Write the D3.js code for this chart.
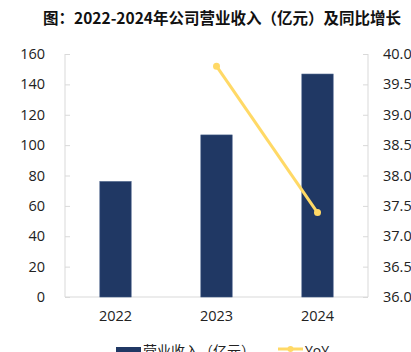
<!DOCTYPE html>
<html lang="zh">
<head>
<meta charset="UTF-8" />
<title>公司营业收入及同比增长</title>
<style>
  body { margin: 0; background: #fff; }
  svg text { font-family: "Open Sans", "Noto Sans CJK SC", sans-serif; }
</style>
</head>
<body>
<div id="chart"></div>
<script src="https://d3js.org/d3.v7.min.js"></script>
<script>
// data
var years = ["2022", "2023", "2024"];
var revenue = [76, 106.7, 146.8];
var yoyYears = ["2023", "2024"];
var yoy = [39.8, 37.39];
var leftTicks = [0, 20, 40, 60, 80, 100, 120, 140, 160];
var rightTicks = [36, 36.5, 37, 37.5, 38, 38.5, 39, 39.5, 40];

var w = 411, h = 352;
// plot edges (note: "top" is reserved on window, so use pTop etc.)
var pLeft = 65, pRight = 368, pTop = 54, pBottom = 297;

var svg = d3.select("#chart").append("svg")
  .attr("width", w)
  .attr("height", h);

// title
svg.append("text")
  .attr("x", 222)
  .attr("y", 24)
  .attr("text-anchor", "middle")
  .style("font-family", "'Noto Sans CJK SC', sans-serif")
  .style("font-weight", "bold")
  .style("font-size", "15.5px")
  .attr("fill", "#111")
  .text("图：2022-2024年公司营业收入（亿元）及同比增长");

var x = d3.scaleBand()
  .domain(years)
  .range([pLeft, pRight])
  .paddingInner(0.69)
  .paddingOuter(0.345);

var yL = d3.scaleLinear().domain([0, 160]).range([pBottom, pTop]);
var yR = d3.scaleLinear().domain([36, 40]).range([pBottom, pTop]);

// axes
var axisColor = "#d9d9d9";

var gl = svg.append("g")
  .attr("transform", "translate(" + pLeft + ",0)")
  .call(d3.axisRight(yL).tickValues(leftTicks).tickSize(5).tickFormat(""));
gl.selectAll("line, path").attr("stroke", axisColor);
gl.select(".domain").attr("d", "M0," + pTop + "V" + pBottom);

// left labels
svg.selectAll(".ltick")
  .data(leftTicks)
  .enter().append("text")
  .attr("x", 45)
  .attr("y", function(d) { return yL(d); })
  .attr("dy", "0.35em")
  .attr("text-anchor", "end")
  .style("font-size", "14.5px")
  .attr("fill", "#222")
  .text(function(d) { return d; });

var gr = svg.append("g")
  .attr("transform", "translate(" + pRight + ",0)")
  .call(d3.axisLeft(yR).tickValues(rightTicks).tickSize(5).tickFormat(""));
gr.selectAll("line, path").attr("stroke", axisColor);
gr.select(".domain").attr("d", "M0," + pTop + "V" + pBottom);

svg.selectAll(".rtick")
  .data(rightTicks)
  .enter().append("text")
  .attr("x", 383)
  .attr("y", function(d) { return yR(d); })
  .attr("dy", "0.35em")
  .style("font-size", "14.5px")
  .attr("fill", "#222")
  .text(function(d) { return d.toFixed(1); });

// bottom axis
var gx = svg.append("g")
  .attr("transform", "translate(0," + pBottom + ")")
  .call(d3.axisBottom(x).tickSize(0).tickPadding(14));
gx.select(".domain").attr("stroke", axisColor).attr("d", "M" + pLeft + ",0H" + pRight);
gx.selectAll("text")
  .style("font-size", "14.5px")
  .style("font-family", "'Open Sans', sans-serif")
  .attr("fill", "#222");

// bars
svg.selectAll(".bar")
  .data(revenue)
  .enter().append("rect")
  .attr("x", function(d, i) { return x(years[i]); })
  .attr("y", function(d) { return yL(d); })
  .attr("width", x.bandwidth())
  .attr("height", function(d) { return pBottom - yL(d); })
  .attr("fill", "#203864")
  .attr("stroke", "#3b5580")
  .attr("stroke-width", 0.6);

// yoy line
var line = d3.line()
  .x(function(d, i) { return x(yoyYears[i]) + x.bandwidth() / 2; })
  .y(function(d) { return yR(d); });

svg.append("path")
  .datum(yoy)
  .attr("d", line)
  .attr("fill", "none")
  .attr("stroke", "#ffd966")
  .attr("stroke-width", 3);

svg.selectAll(".dot")
  .data(yoy)
  .enter().append("circle")
  .attr("cx", function(d, i) { return x(yoyYears[i]) + x.bandwidth() / 2; })
  .attr("cy", function(d) { return yR(d); })
  .attr("r", 3.5)
  .attr("fill", "#ffd966");

// legend
svg.append("rect")
  .attr("x", 116).attr("y", 347)
  .attr("width", 25).attr("height", 10)
  .attr("fill", "#203864");
svg.append("text")
  .attr("x", 143).attr("y", 356)
  .style("font-family", "'Noto Sans CJK SC', sans-serif")
  .style("font-size", "14px")
  .attr("fill", "#222")
  .text("营业收入（亿元）");

svg.append("line")
  .attr("x1", 278).attr("x2", 303)
  .attr("y1", 349).attr("y2", 349)
  .attr("stroke", "#ffd966").attr("stroke-width", 3);
svg.append("circle")
  .attr("cx", 290.5).attr("cy", 349).attr("r", 3)
  .attr("fill", "#ffd966");
svg.append("text")
  .attr("x", 305).attr("y", 356)
  .style("font-size", "14px")
  .attr("fill", "#222")
  .text("YoY");
</script>
</body>
</html>
